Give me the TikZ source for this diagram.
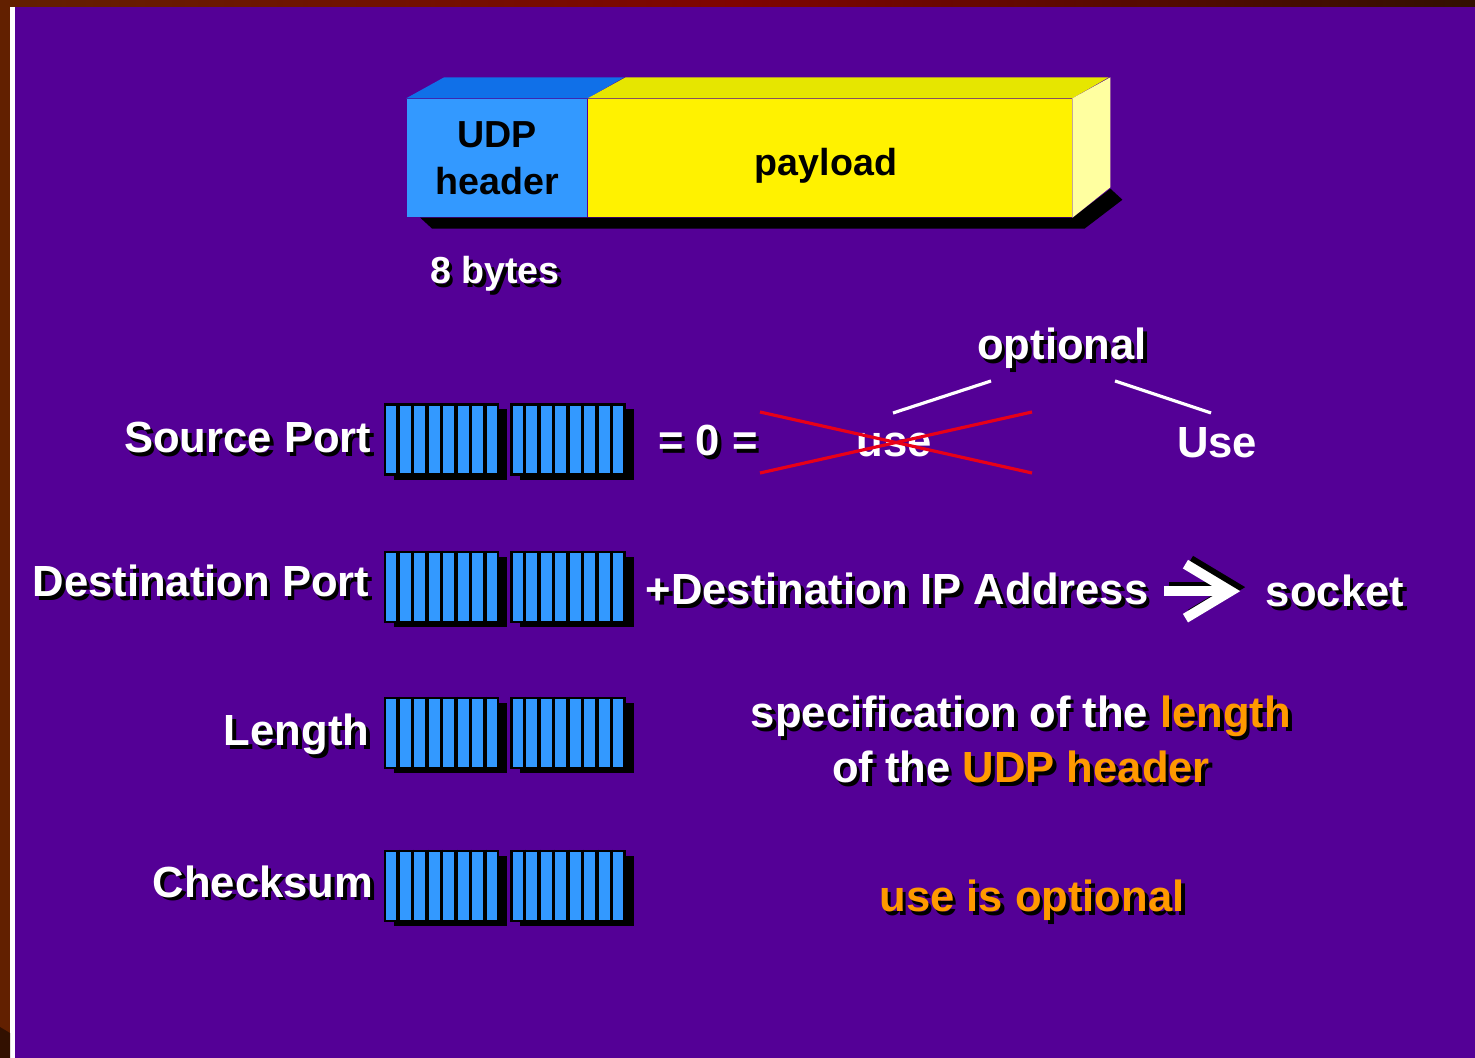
\documentclass[tikz,border=0pt]{standalone}
\usepackage{fontspec}
\setmainfont{Liberation Sans}
\usetikzlibrary{arrows.meta,calc,shadows}

\definecolor{slidepurple}{RGB}{84,0,150}
\definecolor{rimbrown}{RGB}{98,32,0}
\definecolor{rimred}{RGB}{128,4,0}
\definecolor{rimdark}{RGB}{50,16,0}
\definecolor{cellblue}{RGB}{51,153,255}
\definecolor{topblue}{RGB}{16,112,232}
\definecolor{topyellow}{RGB}{230,230,0}
\definecolor{sideyellow}{RGB}{255,255,160}
\definecolor{hiorange}{RGB}{255,153,0}
\definecolor{crossred}{RGB}{232,0,24}

\pgfdeclarelayer{bg}
\pgfdeclarelayer{shade}
\pgfsetlayers{bg,shade,main}

\newcommand{\shd}[1]{\makebox[0pt][l]{\kern0.035cm\raisebox{-0.035cm}{\color{black}#1}}#1}

\tikzset{
  big/.style={inner sep=0,text=white,font=\fontsize{12.4}{15}\selectfont\bfseries},
  bytebox/.style={draw=black,line width=0.8pt,fill=cellblue,inner sep=0,
    minimum width=1.13cm,minimum height=0.70cm,
    drop shadow={shadow xshift=0.09cm,shadow yshift=-0.05cm,fill=black,opacity=1}},
  cellsep/.style={line width=0.9pt},
  fatarrow/.style={line width=0.1cm,-{Straight Barb[length=0.45cm,width=0.54cm]},
    shorten <=0.15cm,shorten >=0.25cm}
}

\begin{document}
\begin{tikzpicture}[x=0.01cm,y=-0.01cm]

      \useasboundingbox (0,0) rectangle (1475,1058);

      \begin{pgfonlayer}{bg}
        \fill[slidepurple] (15,7) rectangle (1475,1058);
        \shade[left color=rimbrown,right color=rimdark,middle color=rimred] (0,0) rectangle (1475,7);
        \fill[rimbrown] (0,0) rectangle (10,1058);
        \fill[white] (10,7) rectangle (15,1058);
        \fill[rimdark] (0,1027) -- (10,1033) -- (10,1058) -- (0,1058) -- cycle;
      \end{pgfonlayer}

      \begin{scope}[every node/.style={inner sep=0,font=\fontsize{10.7}{13.4}\selectfont\bfseries}]
        \node[fill=cellblue,minimum width=1.80cm,minimum height=1.18cm,align=center] (hdr) at (497,158) {UDP\\header};
        \node[fill=yellow,minimum width=4.83cm,minimum height=1.18cm,anchor=west] (pay) at (hdr.east) {};
        \node (payt) at (826,166) {payload};
        \node[text=white,anchor=base] (bytes) at (495,284) {\shd{8 bytes}};
      \end{scope}

      \fill[topblue] (hdr.north west) -- ++(38,-21) -- ++(180,0) -- (hdr.north east) -- cycle;
      \fill[topyellow] (pay.north west) -- ++(38,-21) -- ++(483,0) -- (pay.north east) -- cycle;
      \fill[sideyellow] (pay.north east) -- ++(38,-21) -- ++(0,110) -- (pay.south east) -- cycle;
      \begin{pgfonlayer}{shade}
        \fill[black] (hdr.south west) ++(14,0) -- ++(12,11) -- ($(pay.south east)+(12,11)$)
          -- ++(38,-29) -- ($(pay.south east)+(38,-29)$) -- (pay.south east) -- cycle;
      \end{pgfonlayer}

      \begin{scope}[every node/.style={bytebox}]
        \node (sp1) at (441.5,439.5) {};
        \node (sp2) at (568,439.5) {};
        \node (dp1) at (441.5,587) {};
        \node (dp2) at (568,587) {};
        \node (ln1) at (441.5,733) {};
        \node (ln2) at (568,733) {};
        \node (cs1) at (441.5,886) {};
        \node (cs2) at (568,886) {};
      \end{scope}

      \foreach \b in {sp1,sp2,dp1,dp2,ln1,ln2,cs1,cs2}
        \foreach \i in {1,...,7}
          \draw[cellsep] ($(\b.north west)!\i/8!(\b.north east)$) -- ($(\b.south west)!\i/8!(\b.south east)$);

      \begin{scope}[every node/.style={big,anchor=base east}]
        \node (spl) at (372,453) {\shd{Source Port}};
        \node (dpl) at (370,597) {\shd{Destination Port}};
        \node (lnl) at (370,746) {\shd{Length}};
        \node (csl) at (374,897) {\shd{Checksum}};
      \end{scope}

      \begin{scope}[every node/.style={big,anchor=base}]
        \node (zero) at (708,456) {\shd{= 0 =}};
        \node (usex) at (894,457) {use};
        \node (opt) at (1062,360) {\shd{optional}};
        \node (usey) at (1217,458) {Use};
        \node (dip) at (897,605) {\shd{+Destination IP Address}};
        \node (sock) at (1335,607) {\shd{socket}};
        \node (spec) at (1021,728) {\shd{specification of the} \textcolor{hiorange}{\shd{length}}};
        \node (spec2) at (1021,783) {\shd{of the} \textcolor{hiorange}{\shd{UDP header}}};
        \node (optl) at (1032,912) {\textcolor{hiorange}{\shd{use is optional}}};
      \end{scope}

      \coordinate (oa) at (991,381);
      \coordinate (ob) at (893,413);
      \coordinate (oc) at (1115,381);
      \coordinate (od) at (1211,413);
      \coordinate (xa) at (760,412);
      \coordinate (xb) at (1032,473);
      \coordinate (xc) at (760,473);
      \coordinate (xd) at (1032,412);

      \draw[white,line width=0.9pt] (oa) -- (ob);
      \draw[white,line width=0.9pt] (oc) -- (od);
      \draw[crossred,line width=0.9pt] (xa) -- (xb);
      \draw[crossred,line width=0.9pt] (xc) -- (xd);

      \draw[fatarrow,draw=black,transform canvas={shift={(0.05cm,0.04cm)}}] (dip.east) -- (dip.east -| sock.west);
      \draw[fatarrow,draw=white] (dip.east) -- (dip.east -| sock.west);

\end{tikzpicture}
\end{document}
